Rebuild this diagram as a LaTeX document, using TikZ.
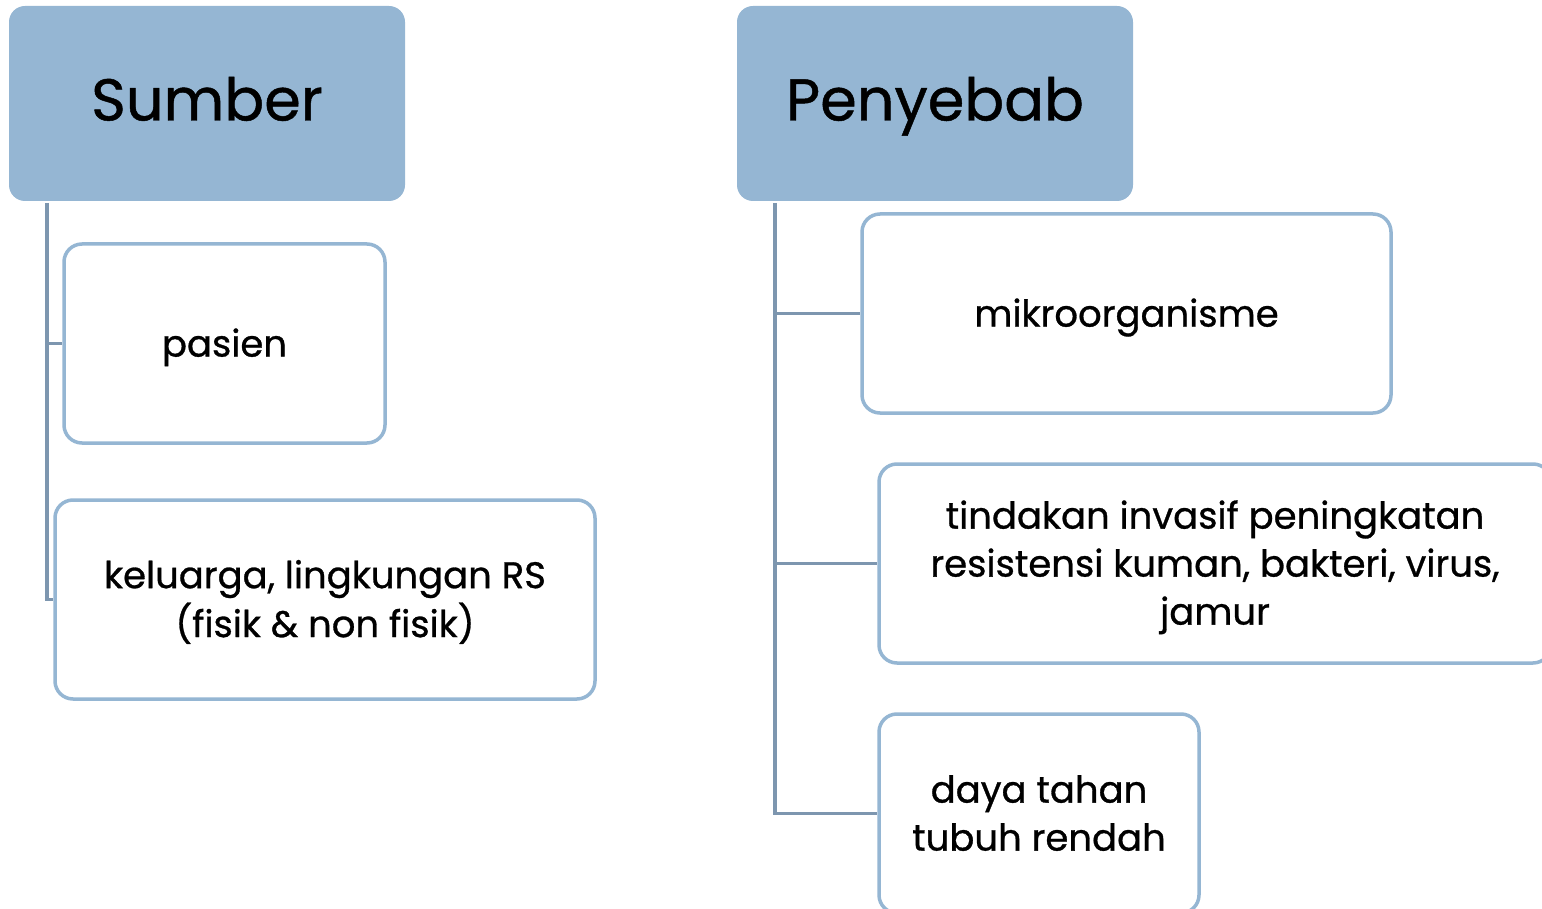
\documentclass[tikz,border=0pt]{standalone}
\usepackage{fontspec}
\setmainfont{Poppins}[UprightFeatures={FakeBold=0.8}]
\definecolor{hdr}{HTML}{95B6D3}
\definecolor{bord}{HTML}{95B6D3}
\definecolor{conn}{HTML}{7D96AF}
\newcommand\boxtext[1]{\raisebox{-3.5pt}[\height][\depth]{\begin{tabular}{@{}c@{}}#1\end{tabular}}}
\tikzset{
  hdrbox/.style={rectangle, rounded corners=16pt, fill=hdr, draw=none, inner sep=0pt,
    font=\fontsize{59}{70}\selectfont, text=black, text height=34pt, text depth=0pt},
  childbox/.style={rectangle, rounded corners=18pt, fill=white, draw=bord, line width=3.5pt,
    inner sep=0pt, font=\fontsize{37}{48}\selectfont, text=black},
  connline/.style={draw=conn, line width=3.5pt}
}
\begin{document}
\begin{tikzpicture}[x=1pt,y=-1pt]
\useasboundingbox (0,0) rectangle (1542,909);
\clip (0,0) rectangle (1542,909);
% headers
\node[hdrbox, minimum width=396pt, minimum height=195pt] (sumber) at (207,103.5) {Sumber};
\node[hdrbox, minimum width=396pt, minimum height=195pt] (penyebab) at (935,103.5) {Penyebab};
% left children
\node[childbox, minimum width=321pt, minimum height=199pt] (pasien) at (224.5,343.5) {\boxtext{pasien}};
\node[childbox, minimum width=540pt, minimum height=199pt] (keluarga) at (325,599.5) {\boxtext{keluarga, lingkungan RS\\(fisik \& non fisik)}};
% right children
\node[childbox, minimum width=529pt, minimum height=199pt] (mikro) at (1126.5,313.5) {\boxtext{mikroorganisme}};
\node[childbox, minimum width=672pt, minimum height=199pt] (tindakan) at (1215,563.5) {\boxtext{tindakan invasif peningkatan\\resistensi kuman, bakteri, virus,\\jamur}};
\node[childbox, minimum width=320pt, minimum height=199pt] (daya) at (1039,813.5) {\boxtext{daya tahan\\tubuh rendah}};
% connectors
\coordinate (ls) at (47,203);
\coordinate (rs) at (775,203);
\draw[connline] (ls) |- (keluarga.west);
\draw[connline] (ls |- pasien.west) -- (pasien.west);
\draw[connline] (rs) |- (daya.west);
\draw[connline] (rs |- mikro.west) -- (mikro.west);
\draw[connline] (rs |- tindakan.west) -- (tindakan.west);
\end{tikzpicture}
\end{document}
